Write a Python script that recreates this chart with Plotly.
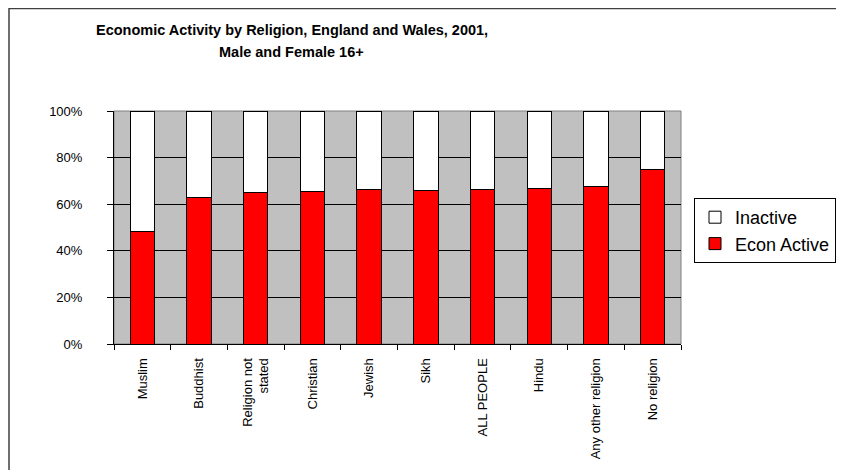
import plotly.graph_objects as go

categories = ["Muslim", "Buddhist", "Religion not<br>stated", "Christian", "Jewish", "Sikh",
              "ALL PEOPLE", "Hindu", "Any other religion", "No religion"]
econ_active = [0.485, 0.628, 0.651, 0.655, 0.661, 0.660, 0.665, 0.669, 0.675, 0.748]
inactive = [1 - v for v in econ_active]
title_lines = ["Economic Activity by Religion, England and Wales, 2001,", "Male and Female 16+"]

FONT = "Liberation Sans, Arial, sans-serif"
OFF = 8  # page body margin
W, H = 844, 470
L, T = 114 - OFF, 111 - OFF
pw, ph = 567, 233
R = W - L - pw
B = H - T - ph

def px(x):  # page x -> paper
    return (x - OFF - L) / pw

def py(y):  # page y -> paper
    return (T + ph - (y - OFF)) / ph

fig = go.Figure()
fig.add_trace(go.Bar(x=categories, y=econ_active, name="Econ Active",
                     marker=dict(color="#FF0000", line=dict(color="black", width=1))))
fig.add_trace(go.Bar(x=categories, y=inactive, name="Inactive",
                     marker=dict(color="#FFFFFF", line=dict(color="black", width=1))))

fig.update_layout(
    width=W, height=H,
    margin=dict(l=L, r=R, t=T, b=B),
    barmode="stack", bargap=0.57,
    plot_bgcolor="#C0C0C0", paper_bgcolor="white",
    font=dict(family=FONT, size=13, color="black"),
    showlegend=True,
    legend=dict(x=px(694), y=py(198), xanchor="left", yanchor="top",
                traceorder="reversed", bordercolor="black", borderwidth=1,
                font=dict(size=18), bgcolor="white"),
    xaxis=dict(tickangle=-90, showline=True, linecolor="black", linewidth=1,
               ticks="outside", ticklen=5, tickcolor="black", tickson="boundaries",
               showgrid=False, ticklabelstandoff=8, automargin=False),
    yaxis=dict(range=[0, 1], dtick=0.2, tickformat=".0%", showline=True,
               linecolor="black", linewidth=1, ticks="outside", ticklen=6,
               tickcolor="black", gridcolor="black", gridwidth=1,
               ticklabelstandoff=22, zeroline=False, automargin=False),
    shapes=[
        dict(type="rect", xref="paper", yref="paper", x0=0, x1=1, y0=0, y1=1,
             line=dict(color="#808080", width=1), layer="below"),
        dict(type="rect", xref="paper", yref="paper", x0=px(9), x1=px(900),
             y0=py(8.5), y1=py(520), line=dict(color="#404040", width=1.5)),
    ],
    annotations=[
        dict(text="<b>%s</b>" % title_lines[0], xref="paper", yref="paper",
             x=px(292), y=py(30), xanchor="center", yanchor="middle",
             showarrow=False, font=dict(size=14.5, family=FONT)),
        dict(text="<b>%s</b>" % title_lines[1], xref="paper", yref="paper",
             x=px(291), y=py(52), xanchor="center", yanchor="middle",
             showarrow=False, font=dict(size=14.5, family=FONT)),
    ],
)

fig.write_html("out.html")
